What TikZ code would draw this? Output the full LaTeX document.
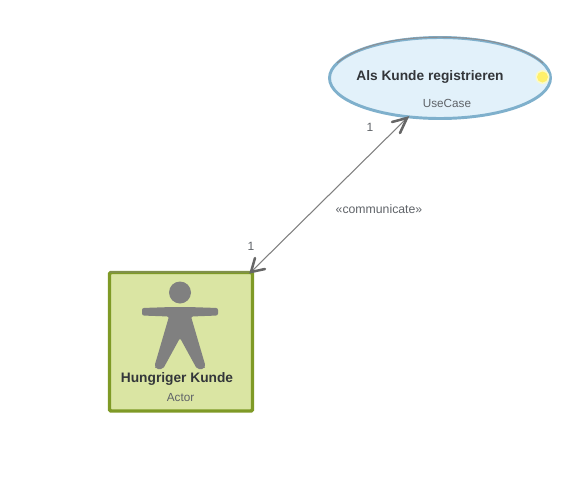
\documentclass[tikz,border=0pt]{standalone}
\usepackage{fontspec}
\setmainfont{Liberation Sans}
\definecolor{ucfill}{HTML}{E2F1FA}
\definecolor{ucedge}{HTML}{7FB0CC}
\definecolor{ucdark}{HTML}{8A8F94}
\definecolor{acfill}{HTML}{DAE5A3}
\definecolor{acedge}{HTML}{7F9A26}
\definecolor{figgray}{HTML}{808080}
\definecolor{barbgray}{HTML}{666666}
\definecolor{txtdark}{HTML}{33363A}
\definecolor{txtgray}{HTML}{5F6368}
\definecolor{dotfill}{HTML}{FFF06A}
\definecolor{dothalo}{HTML}{FBFAC8}
\tikzset{
  titletext/.style={inner sep=0pt,text=txtdark,font=\fontsize{10.3}{12}\selectfont\bfseries},
  subtext/.style={inner sep=0pt,text=txtgray,font=\fontsize{8.8}{10}\selectfont},
  linktext/.style={inner sep=0pt,text=txtgray,font=\fontsize{9}{10}\selectfont},
  usecaseshape/.style={draw=ucedge,line width=2.2pt,fill=ucfill},
  actorshape/.style={draw=acedge,line width=2.6pt,fill=acfill,rounded corners=1pt},
  link/.style={draw=figgray,line width=0.8pt},
  barb/.style={draw=barbgray,line width=1.9pt,line cap=round,line join=miter}
}
\begin{document}
\begin{tikzpicture}[x=0.75pt,y=-0.75pt]
\useasboundingbox (0,0) rectangle (579,486);
% use case
\draw[usecaseshape] (440,78) ellipse [x radius=110.5,y radius=40.5];
\draw[ucdark,line width=0.8pt] (337,63) .. controls (360,44) and (400,37.2) .. (440,37.2) .. controls (480,37.2) and (520,44) .. (543,63);
\fill[dothalo] (542.5,77) circle (7);
\fill[dotfill] (542.5,77) circle (5.5);
\node[titletext] (uctitle) at (430,76.5) {Als Kunde registrieren};
\node[subtext] (uctype) at (447,103.5) {UseCase};
% actor
\draw[actorshape] (109.5,272.5) rectangle (252.5,411);
\draw[acedge!60!figgray,line width=1pt] (110,272) -- (252,272);
\fill[figgray] (180,292.5) circle (11);
\fill[figgray,rounded corners=1.5pt] (142,308) -- (172,307) -- (188,307) -- (218,308) -- (218,315.5) -- (191,316.5) -- (205.5,366) -- (204,369) -- (197,369) -- (180,338) -- (163,369) -- (156,369) -- (154.5,366) -- (169,316.5) -- (142,315.5) -- cycle;
\node[titletext] (actitle) at (177,378.5) {Hungriger Kunde};
\node[subtext] (actype) at (180.5,398) {Actor};
% connector
\coordinate (ucport) at (407,118);
\coordinate (acport) at (251,272);
\coordinate (ucbarba) at (392,122);
\coordinate (ucbarbb) at (400,133);
\coordinate (acbarba) at (265,269);
\coordinate (acbarbb) at (255,258);
\draw[link] (ucport) -- (acport);
\draw[barb] (ucbarba) -- (ucport) -- (ucbarbb);
\draw[barb] (acbarba) -- (acport) -- (acbarbb);
\node[linktext] (m1) at (370,127) {1};
\node[linktext] (m2) at (251,246) {1};
\node[linktext,font=\fontsize{9.2}{10}\selectfont] (lab) at (379,209.5) {«communicate»};
\end{tikzpicture}
\end{document}
